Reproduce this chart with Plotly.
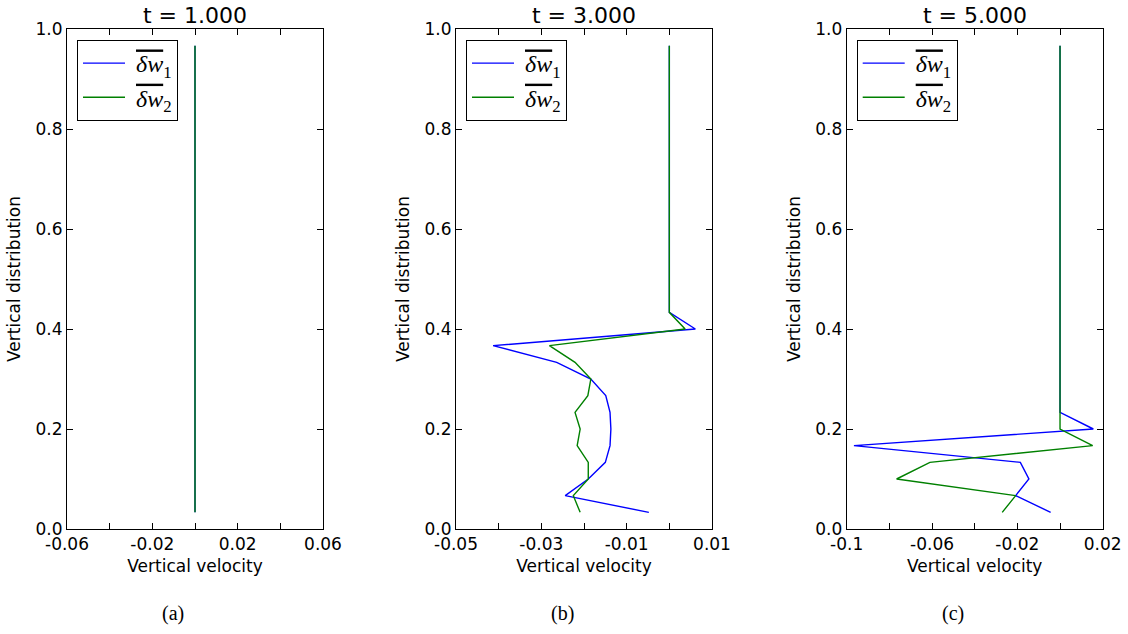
import plotly.graph_objects as go

# vertical levels (k/30)
y_levels = [0.0333, 0.0667, 0.1, 0.1333, 0.1667, 0.2, 0.2333, 0.2667, 0.3, 0.3333,
            0.3667, 0.4, 0.4333, 0.4667, 0.5, 0.5333, 0.5667, 0.6, 0.6333, 0.6667,
            0.7, 0.7333, 0.7667, 0.8, 0.8333, 0.8667, 0.9, 0.9333, 0.9667]

titles = ["t = 1.000", "t = 3.000", "t = 5.000"]
panel_labels = ["(a)", "(b)", "(c)"]

# t = 1
a_w1 = [0.0] * 29
a_w2 = [0.0] * 29
# t = 3
b_w1 = [-0.0048, -0.0244, -0.0190, -0.0150, -0.0139, -0.0137, -0.0139, -0.0149, -0.0184, -0.0264,
        -0.0413, 0.0061, 0.0, 0.0, 0.0, 0.0, 0.0, 0.0, 0.0, 0.0,
        0.0, 0.0, 0.0, 0.0, 0.0, 0.0, 0.0, 0.0, 0.0]
b_w2 = [-0.0209, -0.0225, -0.0190, -0.0190, -0.0216, -0.0209, -0.0221, -0.0191, -0.0184, -0.0221,
        -0.0281, 0.0037, 0.0, 0.0, 0.0, 0.0, 0.0, 0.0, 0.0, 0.0,
        0.0, 0.0, 0.0, 0.0, 0.0, 0.0, 0.0, 0.0, 0.0]
# t = 5
c_w1 = [-0.0044, -0.0208, -0.0146, -0.0186, -0.0966, 0.0156, 0.0, 0.0, 0.0, 0.0,
        0.0, 0.0, 0.0, 0.0, 0.0, 0.0, 0.0, 0.0, 0.0, 0.0,
        0.0, 0.0, 0.0, 0.0, 0.0, 0.0, 0.0, 0.0, 0.0]
c_w2 = [-0.0271, -0.0208, -0.0766, -0.0610, 0.0153, 0.0, 0.0, 0.0, 0.0, 0.0,
        0.0, 0.0, 0.0, 0.0, 0.0, 0.0, 0.0, 0.0, 0.0, 0.0,
        0.0, 0.0, 0.0, 0.0, 0.0, 0.0, 0.0, 0.0, 0.0]

x_ranges = [[-0.06, 0.06], [-0.05, 0.01], [-0.1, 0.02]]
x_tickvals = [[-0.06, -0.04, -0.02, 0.0, 0.02, 0.04, 0.06],
              [-0.05, -0.04, -0.03, -0.02, -0.01, 0.0, 0.01],
              [-0.1, -0.08, -0.06, -0.04, -0.02, 0.0, 0.02]]
x_ticktext = [["-0.06", "", "-0.02", "", "0.02", "", "0.06"],
              ["-0.05", "", "-0.03", "", "-0.01", "", "0.01"],
              ["-0.1", "", "-0.06", "", "-0.02", "", "0.02"]]
y_tickvals = [0.0, 0.2, 0.4, 0.6, 0.8, 1.0]
y_ticktext = ["0.0", "0.2", "0.4", "0.6", "0.8", "1.0"]

series = [(a_w1, a_w2), (b_w1, b_w2), (c_w1, c_w2)]
names = ['\u00a0<span style="text-decoration:overline"><i>δw</i></span><sub>1</sub>',
         '\u00a0<span style="text-decoration:overline"><i>δw</i></span><sub>2</sub>']
colors = ["#0000ff", "#008000"]

W, H = 1128, 634
left_px = [67, 456, 846.7]
width_px = 256
top_px, bot_px = 29, 529

fig = go.Figure()
for i, (w1, w2) in enumerate(series):
    xa = "x" if i == 0 else f"x{i+1}"
    ya = "y" if i == 0 else f"y{i+1}"
    lg = "legend" if i == 0 else f"legend{i+1}"
    for j, vals in enumerate((w1, w2)):
        fig.add_trace(go.Scatter(x=vals, y=y_levels, mode="lines", name=names[j],
                                 line=dict(color=colors[j], width=1.4),
                                 xaxis=xa, yaxis=ya, legend=lg, showlegend=True))

axis_font = dict(family="DejaVu Sans", size=17, color="black")
common = dict(showline=True, linecolor="black", linewidth=1, mirror="ticks",
              ticks="inside", ticklen=6, tickcolor="black", tickwidth=1,
              showgrid=False, zeroline=False, tickfont=axis_font, automargin=False)

layout = dict(width=W, height=H, margin=dict(l=0, r=0, t=0, b=0, autoexpand=False),
              paper_bgcolor="white", plot_bgcolor="white", annotations=[])
ydom = [1 - bot_px / H, 1 - top_px / H]
for i in range(3):
    sfx = "" if i == 0 else str(i + 1)
    xdom = [left_px[i] / W, (left_px[i] + width_px) / W]
    layout["xaxis" + sfx] = dict(domain=xdom, range=x_ranges[i], tickmode="array",
                                 tickvals=x_tickvals[i], ticktext=x_ticktext[i],
                                 anchor="y" + sfx,
                                 title=dict(text="Vertical velocity", font=axis_font, standoff=6),
                                 **common)
    layout["yaxis" + sfx] = dict(domain=ydom, range=[0, 1], tickmode="array",
                                 tickvals=y_tickvals, ticktext=y_ticktext,
                                 anchor="x" + sfx,
                                 title=dict(text="Vertical distribution", font=axis_font, standoff=10),
                                 **common)
    lg = "legend" if i == 0 else f"legend{i+1}"
    layout[lg] = dict(x=(left_px[i] + 10) / W, y=1 - 40 / H, xanchor="left", yanchor="top",
                      bordercolor="black", borderwidth=1, bgcolor="white",
                      font=dict(family="Liberation Serif", size=24, color="black"),
                      itemwidth=42, tracegroupgap=0)
    cx = (left_px[i] + width_px / 2) / W
    layout["annotations"].append(dict(text=titles[i], x=cx, y=1 - 16 / H, xref="paper", yref="paper",
                                      showarrow=False, xanchor="center", yanchor="middle",
                                      font=dict(family="DejaVu Sans", size=22, color="black")))
    layout["annotations"].append(dict(text=panel_labels[i], x=(left_px[i] + width_px / 2 - 22) / W,
                                      y=1 - 613 / H, xref="paper", yref="paper",
                                      showarrow=False, xanchor="center", yanchor="middle",
                                      font=dict(family="Liberation Serif", size=20, color="black")))

fig.update_layout(**layout)
fig.write_html("out.html")
